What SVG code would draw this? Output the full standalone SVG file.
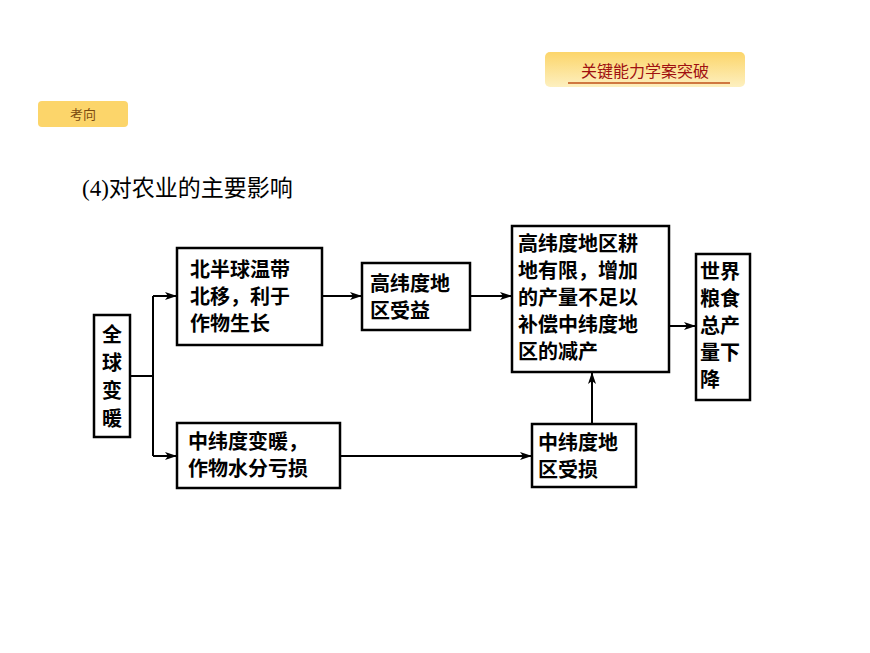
<svg xmlns="http://www.w3.org/2000/svg" width="870" height="653" viewBox="0 0 870 653">
<defs>
<linearGradient id="g" x1="0" y1="0" x2="0" y2="1"><stop offset="0" stop-color="#fcd56a"/><stop offset="1" stop-color="#fdf0c0"/></linearGradient>
<marker id="a" markerWidth="12" markerHeight="8" refX="11" refY="4" orient="auto" markerUnits="userSpaceOnUse"><path d="M0,0 L12,4 L0,8 L3,4 Z" fill="#000"/></marker>
</defs>
<style>
.b{fill:#fff;stroke:#000;stroke-width:2.5}
.t{font-family:"Liberation Serif","Noto Sans CJK SC",serif;font-size:20px;font-weight:bold;fill:#000}
.c{fill:none;stroke:#000;stroke-width:2}
</style>
<rect width="870" height="653" fill="#fff"/>
<rect x="545" y="52" width="200" height="35" rx="5" fill="url(#g)"/>
<text x="645" y="77" text-anchor="middle" font-family="Noto Sans CJK SC,sans-serif" font-size="16" fill="#a01010">关键能力学案突破</text>
<line x1="568" y1="83" x2="730" y2="83" stroke="#c0501a" stroke-width="1.5"/>
<rect x="38" y="101" width="90" height="26" rx="4" fill="#fcd56a"/>
<text x="83" y="119" text-anchor="middle" font-family="Noto Sans CJK SC,sans-serif" font-size="13" fill="#7a4a10">考向</text>
<text x="82" y="196" font-family="Liberation Serif,Noto Sans CJK SC,serif" font-size="23" fill="#000">(4)对农业的主要影响</text>
<g id="connectors">
<path class="c" d="M130,376 H153"/>
<path class="c" d="M153,296 V456"/>
<path class="c" d="M153,296 H176" marker-end="url(#a)"/>
<path class="c" d="M153,456 H176" marker-end="url(#a)"/>
<path class="c" d="M322,296 H361" marker-end="url(#a)"/>
<path class="c" d="M470,296 H511" marker-end="url(#a)"/>
<path class="c" d="M340,456 H531" marker-end="url(#a)"/>
<path class="c" d="M592,424 V373" marker-end="url(#a)"/>
<path class="c" d="M669,326 H695" marker-end="url(#a)"/>
</g>
<g id="n1"><rect class="b" x="94" y="315" width="36" height="122"/>
<text class="t" x="112" y="342" text-anchor="middle">全</text><text class="t" x="112" y="370" text-anchor="middle">球</text><text class="t" x="112" y="398" text-anchor="middle">变</text><text class="t" x="112" y="426" text-anchor="middle">暖</text></g>
<g id="n2"><rect class="b" x="177" y="248" width="145" height="97"/>
<text class="t" x="190" y="277">北半球温带</text><text class="t" x="190" y="304">北移，利于</text><text class="t" x="190" y="331">作物生长</text></g>
<g id="n3"><rect class="b" x="362" y="263" width="108" height="67"/>
<text class="t" x="370" y="291">高纬度地</text><text class="t" x="370" y="318">区受益</text></g>
<g id="n4"><rect class="b" x="512" y="226" width="157" height="146"/>
<text class="t" x="518" y="251">高纬度地区耕</text><text class="t" x="518" y="278">地有限，增加</text><text class="t" x="518" y="305">的产量不足以</text><text class="t" x="518" y="332">补偿中纬度地</text><text class="t" x="518" y="359">区的减产</text></g>
<g id="n5"><rect class="b" x="696" y="254" width="54" height="146"/>
<text class="t" x="700" y="279">世界</text><text class="t" x="700" y="306">粮食</text><text class="t" x="700" y="333">总产</text><text class="t" x="700" y="360">量下</text><text class="t" x="700" y="387">降</text></g>
<g id="n6"><rect class="b" x="177" y="423" width="163" height="65"/>
<text class="t" x="188" y="449">中纬度变暖，</text><text class="t" x="188" y="476">作物水分亏损</text></g>
<g id="n7"><rect class="b" x="532" y="424" width="104" height="63"/>
<text class="t" x="538" y="450">中纬度地</text><text class="t" x="538" y="477">区受损</text></g>
</svg>
